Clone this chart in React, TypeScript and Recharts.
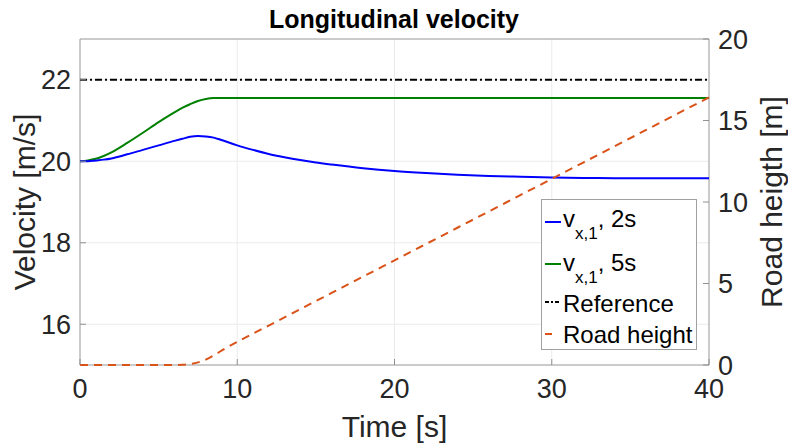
import {
  CartesianGrid,
  Line,
  LineChart,
  ReferenceArea,
  XAxis,
  YAxis,
} from 'recharts';

const time = [0, 0.5, 1, 1.5, 2, 3, 4, 5, 6, 6.5, 7, 7.5, 8, 8.5, 9, 10, 11, 12, 13, 14, 15, 16, 18, 20, 22, 24, 26, 28, 30, 32, 34, 36, 38, 40];
const v2s = [20, 20, 20.02, 20.04, 20.07, 20.17, 20.28, 20.39, 20.5, 20.55, 20.6, 20.62, 20.61, 20.58, 20.52, 20.39, 20.28, 20.18, 20.1, 20.03, 19.97, 19.92, 19.83, 19.76, 19.71, 19.67, 19.64, 19.62, 19.6, 19.59, 19.585, 19.58, 19.58, 19.58];
const v5s = [20, 20.02, 20.06, 20.13, 20.22, 20.45, 20.7, 20.96, 21.2, 21.31, 21.4, 21.48, 21.53, 21.55, 21.55, 21.55, 21.55, 21.55, 21.55, 21.55, 21.55, 21.55, 21.55, 21.55, 21.55, 21.55, 21.55, 21.55, 21.55, 21.55, 21.55, 21.55, 21.55, 21.55];
const reference = [22, 22, 22, 22, 22, 22, 22, 22, 22, 22, 22, 22, 22, 22, 22, 22, 22, 22, 22, 22, 22, 22, 22, 22, 22, 22, 22, 22, 22, 22, 22, 22, 22, 22];
const roadHeight = [0, 0, 0, 0, 0, 0, 0, 0, 0, 0.01, 0.06, 0.16, 0.33, 0.58, 0.88, 1.42, 1.92, 2.42, 2.92, 3.42, 3.92, 4.42, 5.42, 6.42, 7.42, 8.42, 9.42, 10.42, 11.42, 12.42, 13.42, 14.42, 15.42, 16.42];

const xTicks = [0, 10, 20, 30, 40];
const leftTicks = [16, 18, 20, 22];
const rightTicks = [0, 5, 10, 15, 20];

const data = time.map((t, i) => ({
  t,
  v2s: v2s[i],
  v5s: v5s[i],
  reference: reference[i],
  road: roadHeight[i],
}));

const FONT = '"Liberation Sans", Arial, sans-serif';
const NARROW = '"Liberation Sans Narrow", "Liberation Sans", Arial, sans-serif';
const tickStyle = { fill: '#262626', fontSize: 27, fontFamily: NARROW };
const labelStyle = { fill: '#262626', fontSize: 30, fontFamily: FONT };

function Sample({ color, dash, top }: { color: string; dash?: string; top: number }) {
  return (
    <svg width={18} height={10} style={{ position: 'absolute', left: 2, top: top - 5 }}>
      <line x1={1} y1={5} x2={17} y2={5} stroke={color} strokeWidth={2} strokeDasharray={dash} />
    </svg>
  );
}

function Sub({ children }: { children: string }) {
  return <span style={{ fontSize: 17, position: 'relative', top: 12 }}>{children}</span>;
}

function LegendBox() {
  const text = (top: number) => ({ position: 'absolute', left: 21, top, whiteSpace: 'nowrap' }) as const;
  return (
    <div
      style={{
        position: 'absolute',
        left: 541,
        top: 199,
        border: '1px solid #a0a0a0',
        background: '#fff',
        width: 156,
        height: 151,
        boxSizing: 'border-box',
        fontFamily: FONT,
        fontSize: 24,
        color: '#000',
        lineHeight: 1,
      }}
    >
      <Sample color="#0000ff" top={22} />
      <span style={text(7)}>v<Sub>x,1</Sub>, 2s</span>
      <Sample color="#008000" top={64} />
      <span style={text(51)}>v<Sub>x,1</Sub>, 5s</span>
      <Sample color="#000" dash="4 2 2 2" top={102} />
      <span style={text(92)}>Reference</span>
      <Sample color="#D95319" dash="7 20" top={134} />
      <span style={text(123)}>Road height</span>
    </div>
  );
}

export default function App() {
  return (
    <div style={{ position: 'relative', width: 788, height: 445, background: '#fff' }}>
      <style>{'body{margin:0}'}</style>
      <div
        style={{
          position: 'absolute',
          top: 5,
          left: 0,
          width: 788,
          textAlign: 'center',
          fontFamily: FONT,
          fontWeight: 'bold',
          fontSize: 25,
          color: '#000',
        }}
      >
        Longitudinal velocity
      </div>
      <LineChart
        width={788}
        height={445}
        data={data}
        margin={{ top: 39, right: 0, bottom: 0, left: 0 }}
      >
        <CartesianGrid yAxisId="left" stroke="#ebebeb" strokeWidth={1} />
        <XAxis
          dataKey="t"
          type="number"
          domain={[0, 40]}
          ticks={xTicks}
          height={80}
          axisLine={false}
          tickLine={{ stroke: '#909090' }}
          tickSize={-6}
          tickMargin={20}
          tick={tickStyle}
          label={{ value: 'Time [s]', position: 'insideBottom', offset: 8, ...labelStyle }}
        />
        <YAxis
          yAxisId="left"
          domain={[15, 23]}
          ticks={leftTicks}
          width={80}
          axisLine={false}
          tickLine={{ stroke: '#909090' }}
          tickSize={-6}
          tickMargin={15}
          tick={tickStyle}
          label={{ value: 'Velocity [m/s]', angle: -90, position: 'insideLeft', offset: 24, ...labelStyle, style: { textAnchor: 'middle' } }}
        />
        <YAxis
          yAxisId="right"
          orientation="right"
          domain={[0, 20]}
          ticks={rightTicks}
          width={79}
          axisLine={false}
          tickLine={{ stroke: '#909090' }}
          tickSize={-6}
          tickMargin={15}
          tick={tickStyle}
          label={{ value: 'Road heigth [m]', angle: -90, position: 'insideRight', offset: 17, ...labelStyle, style: { textAnchor: 'middle' } }}
        />
        <ReferenceArea yAxisId="left" x1={0} x2={40} y1={15} y2={23} fill="none" stroke="#a0a0a0" strokeWidth={1} />
        <Line yAxisId="left" dataKey="reference" stroke="#000" strokeWidth={2} strokeDasharray="7 3 2 3" dot={false} isAnimationActive={false} />
        <Line yAxisId="left" type="monotone" dataKey="v5s" stroke="#008000" strokeWidth={2} dot={false} isAnimationActive={false} />
        <Line yAxisId="left" type="monotone" dataKey="v2s" stroke="#0000ff" strokeWidth={2} dot={false} isAnimationActive={false} />
        <Line yAxisId="right" type="monotone" dataKey="road" stroke="#D95319" strokeWidth={2} strokeDasharray="8 6" dot={false} isAnimationActive={false} />
      </LineChart>
      <LegendBox />
    </div>
  );
}
